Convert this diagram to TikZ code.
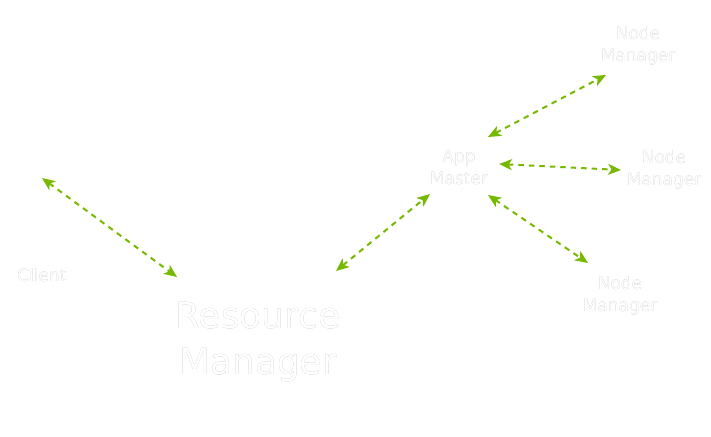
\documentclass[tikz,border=0pt]{standalone}
\usepackage{fontspec}
\setmainfont{DejaVu Sans}
\usepackage[outline]{contour}
\contourlength{0.5pt}
\usetikzlibrary{arrows.meta}
\definecolor{nvgreen}{HTML}{76B900}
\definecolor{outl}{HTML}{A8A8A8}
\newcommand{\outl}[1]{{\color{white}\contour{outl}{#1}}}
\tikzset{
  small/.style={align=center,font=\fontsize{17}{22}\selectfont,inner sep=0pt},
  big/.style={align=center,font=\fontsize{36}{46}\selectfont,inner sep=0pt},
  link/.style={draw=nvgreen,line width=2pt,dash pattern=on 5.5pt off 5pt,
    {Stealth[length=13pt,width=11pt,inset=3.5pt]}-{Stealth[length=13pt,width=11pt,inset=3.5pt]}}
}
\begin{document}
\begin{tikzpicture}[x=1pt,y=-1pt]
\useasboundingbox (0,0) rectangle (711,436);
\node[small] (client) at (42,275) {\outl{Client}};
\node[big] (rm) at (258,342) {\outl{Resource}\\\outl{Manager}};
\node[small] (am) at (459,167) {\outl{App}\\\outl{Master}};
\node[small] (nm1) at (638,46) {\outl{Node}\\\outl{Manager}};
\node[small] (nm2) at (664,170) {\outl{Node}\\\outl{Manager}};
\node[small] (nm3) at (620,296) {\outl{Node}\\\outl{Manager}};
\coordinate (c1) at (42,178);
\coordinate (r1) at (177,277);
\coordinate (r2) at (336,271);
\coordinate (a1) at (430,194);
\coordinate (a2) at (488,137);
\coordinate (n1) at (606,75);
\coordinate (a3) at (499,164);
\coordinate (n2) at (621,170);
\coordinate (a4) at (488,195);
\coordinate (n3) at (588,263);
\draw[link] (c1) -- (r1);
\draw[link] (r2) -- (a1);
\draw[link] (a2) -- (n1);
\draw[link] (a3) -- (n2);
\draw[link] (a4) -- (n3);
\end{tikzpicture}
\end{document}
